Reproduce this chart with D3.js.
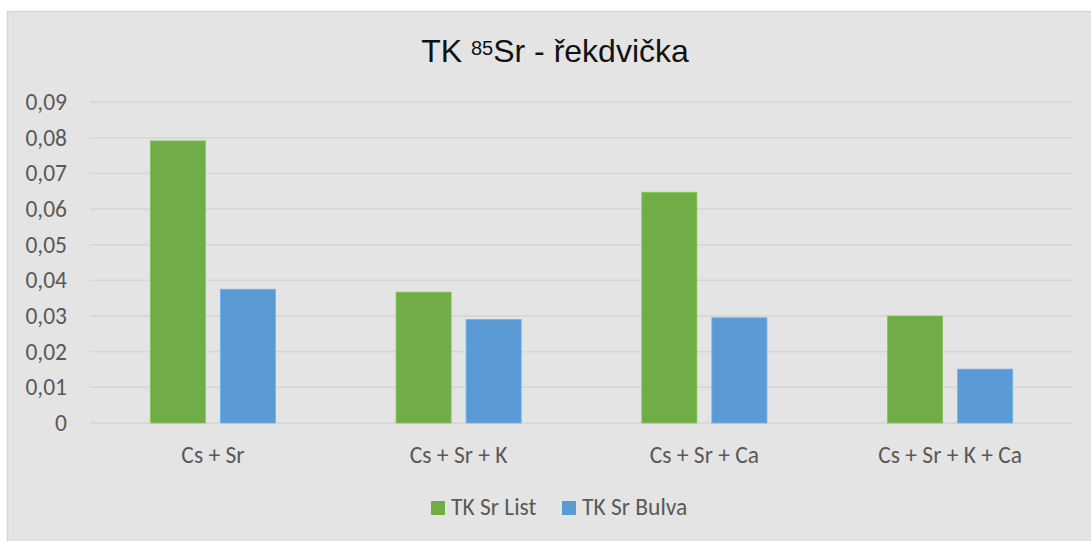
<!DOCTYPE html>
<html>
<head>
<meta charset="utf-8">
<script src="https://cdn.jsdelivr.net/npm/d3@7"></script>
<style>
  body { margin: 0; background: #ffffff; }
  svg { display: block; }
</style>
</head>
<body>
<div id="chart"></div>
<script>
// data
var categories = ["Cs + Sr", "Cs + Sr + K", "Cs + Sr + Ca", "Cs + Sr + K + Ca"];
var seriesNames = ["TK Sr List", "TK Sr Bulva"];
var listValues = [0.0791, 0.0367, 0.0647, 0.0300];
var bulvaValues = [0.0375, 0.0290, 0.0295, 0.0151];
var yTicks = [0, 0.01, 0.02, 0.03, 0.04, 0.05, 0.06, 0.07, 0.08, 0.09];

var width = 1091, height = 541;
var plot = {left: 90, right: 1073, top: 102, bottom: 423};

var colors = {"TK Sr List": "#70ad47", "TK Sr Bulva": "#5b9bd5"};
var labelFont = "Carlito, Calibri, Lato, sans-serif";
var labelSize = "23.5px";
var textColor = "#595959";

var rows = categories.map(function(c, i) {
  return {cat: c, "TK Sr List": listValues[i], "TK Sr Bulva": bulvaValues[i]};
});

var svg = d3.select("#chart").append("svg")
    .attr("width", width)
    .attr("height", height);

// chart area
svg.append("rect")
    .attr("x", 7.5).attr("y", 11.5)
    .attr("width", width + 10).attr("height", height + 10)
    .attr("fill", "#e4e4e4")
    .attr("stroke", "#d6d6d6")
    .attr("stroke-width", 1.5);

var x0 = d3.scaleBand()
    .domain(categories)
    .range([plot.left, plot.right])
    .paddingInner(0.491)
    .paddingOuter(0.2455);

var x1 = d3.scaleBand()
    .domain(seriesNames)
    .range([0, x0.bandwidth()])
    .paddingInner(0.214);

var y = d3.scaleLinear()
    .domain([0, 0.09])
    .range([plot.bottom, plot.top]);

// gridlines
svg.append("g").selectAll("line")
    .data(yTicks)
    .enter().append("line")
    .attr("x1", plot.left).attr("x2", plot.right)
    .attr("y1", d => y(d)).attr("y2", d => y(d))
    .attr("stroke", "#d5d5d5")
    .attr("stroke-width", 1.5);

// y axis labels
var yAxis = d3.axisLeft(y)
    .tickValues(yTicks)
    .tickSize(0)
    .tickPadding(23)
    .tickFormat(d => d === 0 ? "0" : d3.format(".2f")(d).replace(".", ","));

var yg = svg.append("g")
    .attr("transform", "translate(" + plot.left + ",0)")
    .call(yAxis);
yg.select(".domain").remove();
yg.selectAll("text")
    .attr("fill", textColor)
    .style("font-family", labelFont)
    .style("font-size", labelSize);

// x axis labels
var xAxis = d3.axisBottom(x0).tickSize(0).tickPadding(23);
var xg = svg.append("g")
    .attr("transform", "translate(0," + plot.bottom + ")")
    .call(xAxis);
xg.select(".domain").remove();
xg.selectAll("text")
    .attr("fill", textColor)
    .style("font-family", labelFont)
    .style("font-size", labelSize);

// bars
var groups = svg.append("g").selectAll("g")
    .data(rows)
    .enter().append("g")
    .attr("transform", d => "translate(" + x0(d.cat) + ",0)");

groups.selectAll("rect")
    .data(d => seriesNames.map(s => ({key: s, value: d[s]})))
    .enter().append("rect")
    .attr("x", d => x1(d.key))
    .attr("width", x1.bandwidth())
    .attr("y", d => y(d.value))
    .attr("height", d => plot.bottom - y(d.value))
    .attr("fill", d => colors[d.key])
    .attr("stroke", d => d3.color(colors[d.key]).brighter(0.4))
    .attr("stroke-width", 0.8);

// title
var title = svg.append("text")
    .attr("x", 555)
    .attr("y", 62)
    .attr("text-anchor", "middle")
    .style("font-family", "'Liberation Sans', Arial, sans-serif")
    .style("font-size", "32px")
    .attr("fill", "#111111");
title.append("tspan").text("TK ");
title.append("tspan").text("85").style("font-size", "20px").attr("dy", -7);
title.append("tspan").text("Sr - řekdvička").attr("dy", 7);

// legend
var legendX = [431, 562];
var legend = svg.append("g").selectAll("g")
    .data(seriesNames)
    .enter().append("g")
    .attr("transform", (d, i) => "translate(" + legendX[i] + ",501)");

legend.append("rect")
    .attr("width", 14).attr("height", 14)
    .attr("fill", d => colors[d]);

legend.append("text")
    .attr("x", 20)
    .attr("y", 14)
    .attr("fill", textColor)
    .style("font-family", labelFont)
    .style("font-size", labelSize)
    .text(d => d);
</script>
</body>
</html>
